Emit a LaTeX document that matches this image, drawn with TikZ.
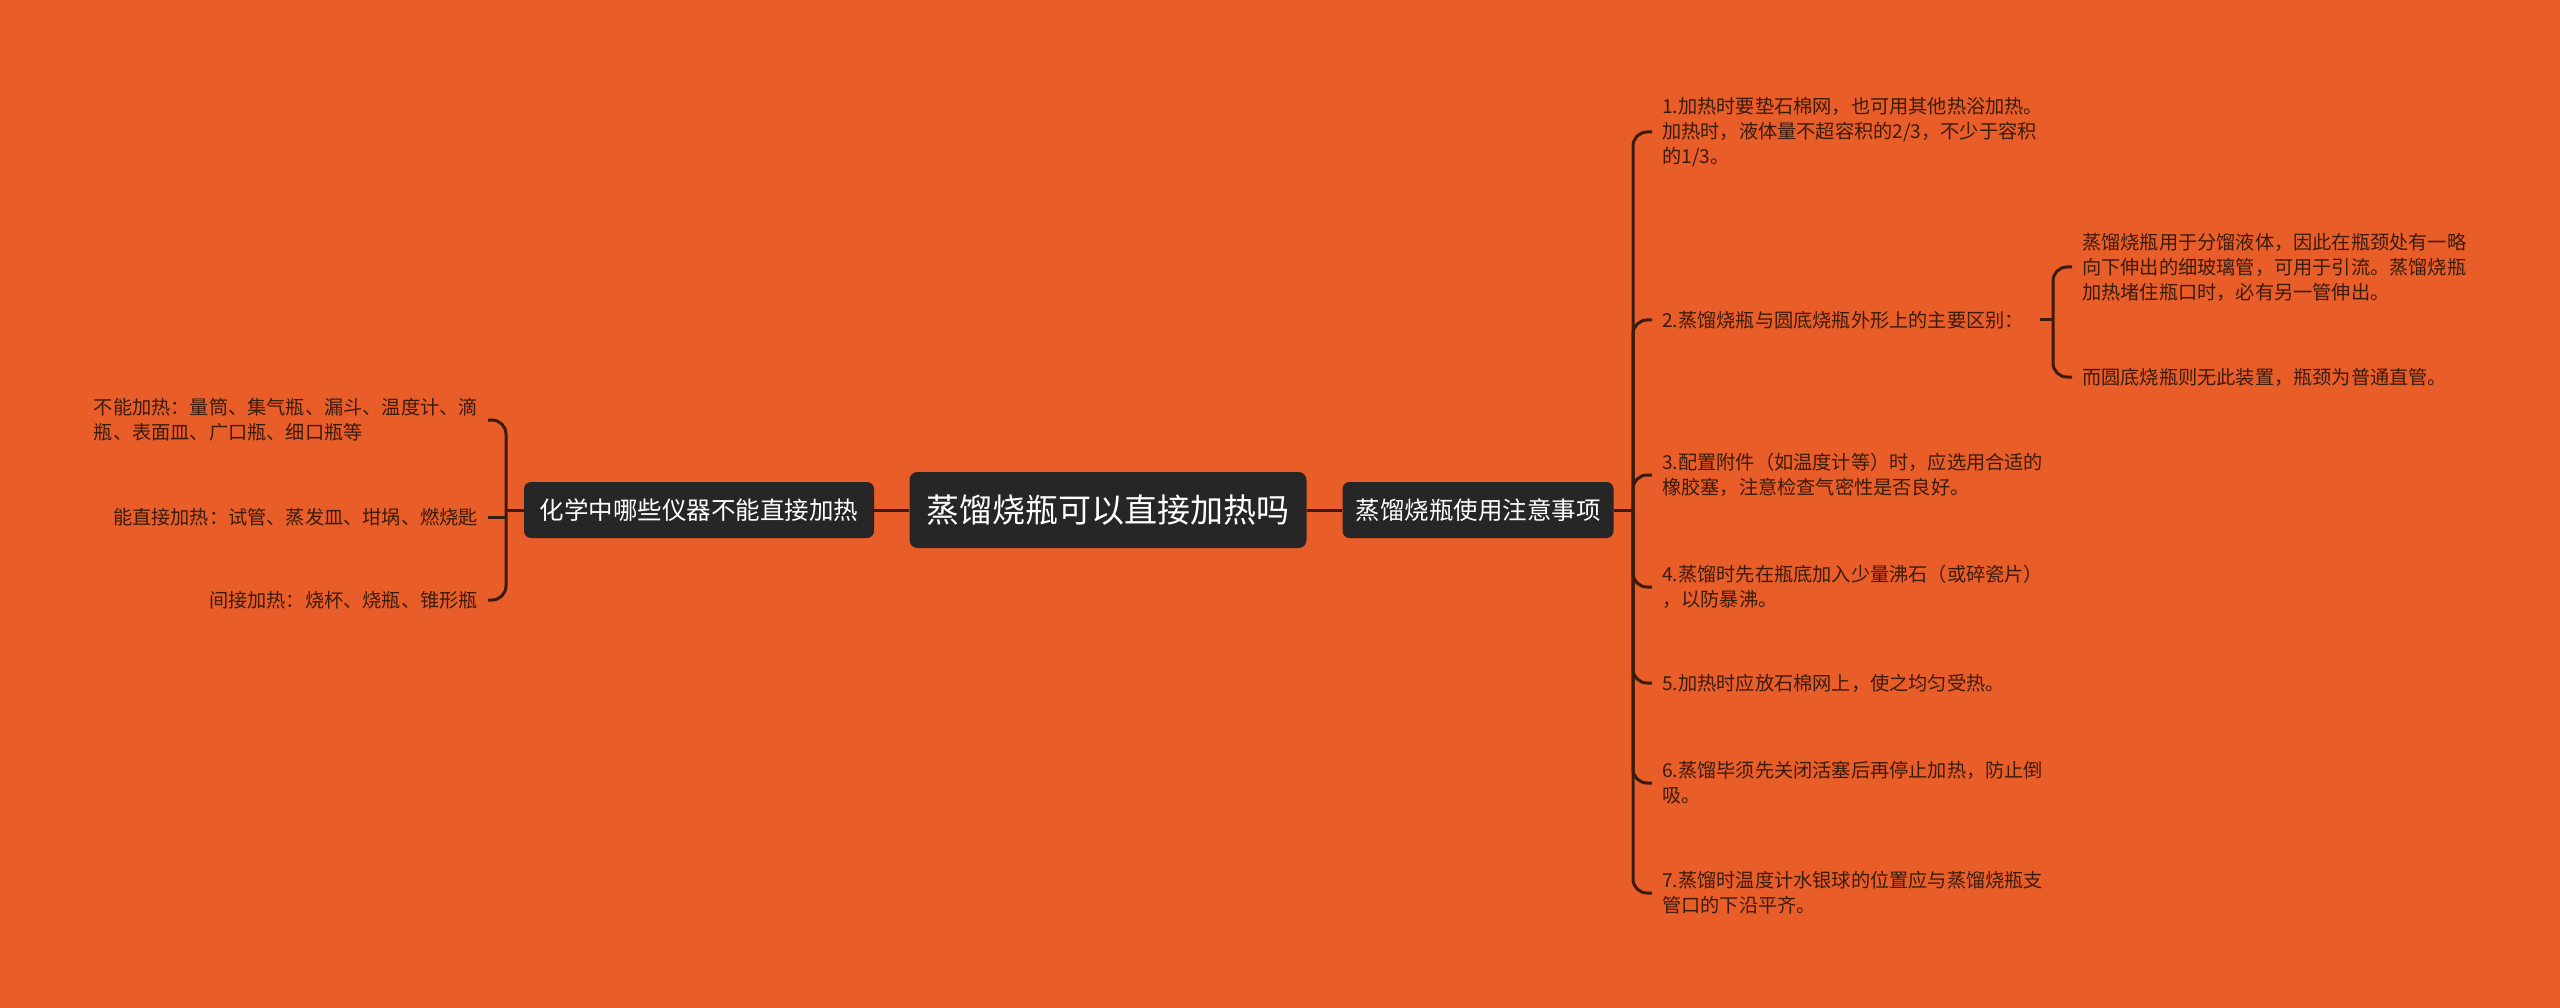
\documentclass[tikz,border=0pt]{standalone}
\usepackage{fontspec}
\newfontfamily\cjk{Noto Sans CJK SC}
\usetikzlibrary{positioning}
\definecolor{bgorange}{HTML}{E95D28}
\definecolor{boxdark}{HTML}{262626}
\definecolor{linebrown}{HTML}{3A1C0E}

\begin{document}
\begin{tikzpicture}[x=1pt, y=-1pt,
    root/.style={fill=boxdark, rounded corners=8pt, text=white, minimum width=397pt, minimum height=76pt, inner xsep=10pt, font=\cjk\fontsize{33}{40}\selectfont},
    topic/.style={fill=boxdark, rounded corners=7pt, text=white, minimum height=56pt, inner xsep=12pt, font=\cjk\fontsize{24.5}{30}\selectfont},
    leaf/.style={align=left, text=linebrown, inner xsep=10pt, inner ysep=2pt, font=\cjk\fontsize{19.2}{25}\selectfont},
    link/.style={draw=linebrown, line width=3pt, rounded corners=14pt}
  ]
    \fill[bgorange] (0,0) rectangle (2560,1008);

    \node[root]  (main)  at (1108,510) {蒸馏烧瓶可以直接加热吗};
    \node[topic, minimum width=350pt] (tools) at (699,510)  {化学中哪些仪器不能直接加热};
    \node[topic, minimum width=271pt] (notes) at (1478,510) {蒸馏烧瓶使用注意事项};

    % left side
    \node[leaf, anchor=east] (nocan)    at (488,420) {不能加热：量筒、集气瓶、漏斗、温度计、滴\\瓶、表面皿、广口瓶、细口瓶等};
    \node[leaf, anchor=east] (direct)   at (488,517) {能直接加热：试管、蒸发皿、坩埚、燃烧匙};
    \node[leaf, anchor=east] (indirect) at (488,600) {间接加热：烧杯、烧瓶、锥形瓶};

    % right side
    \node[leaf, anchor=west] (n1) at (1652,132) {1.加热时要垫石棉网，也可用其他热浴加热。\\加热时，液体量不超容积的2/3，不少于容积\\的1/3。};
    \node[leaf, anchor=west] (n2) at (1652,320) {2.蒸馏烧瓶与圆底烧瓶外形上的主要区别：};
    \node[leaf, anchor=west] (n3) at (1652,475) {3.配置附件（如温度计等）时，应选用合适的\\橡胶塞，注意检查气密性是否良好。};
    \node[leaf, anchor=west] (n4) at (1652,587) {4.蒸馏时先在瓶底加入少量沸石（或碎瓷片）\\，以防暴沸。};
    \node[leaf, anchor=west] (n5) at (1652,683) {5.加热时应放石棉网上，使之均匀受热。};
    \node[leaf, anchor=west] (n6) at (1652,783) {6.蒸馏毕须先关闭活塞后再停止加热，防止倒\\吸。};
    \node[leaf, anchor=west] (n7) at (1652,893) {7.蒸馏时温度计水银球的位置应与蒸馏烧瓶支\\管口的下沿平齐。};

    \node[leaf, anchor=west] (s1) at (2072,267) {蒸馏烧瓶用于分馏液体，因此在瓶颈处有一略\\向下伸出的细玻璃管，可用于引流。蒸馏烧瓶\\加热堵住瓶口时，必有另一管伸出。};
    \node[leaf, anchor=west] (s2) at (2072,377) {而圆底烧瓶则无此装置，瓶颈为普通直管。};

    \coordinate (lbus) at (506,510);
    \coordinate (rbus) at (1633,510);
    \coordinate (sbus) at (2053,320);

    \draw[link] (main) -- (tools);
    \draw[link] (main) -- (notes);

    \draw[link] (tools.west) -- (lbus);
    \draw[link] (lbus) |- (nocan.east);
    \draw[link] (lbus) |- (indirect.east);
    \draw[link] (direct.east) -- (direct.east -| lbus);

    \draw[link] (notes.east) -- (rbus);
    \foreach \n in {n1,n2,n3,n4,n5,n6,n7}
      \draw[link] (rbus) |- (\n.west);

    \draw[link, shorten <=6pt] (n2.east) -- (sbus);
    \draw[link] (sbus) |- (s1.west);
    \draw[link] (sbus) |- (s2.west);
  \end{tikzpicture}
\end{document}
